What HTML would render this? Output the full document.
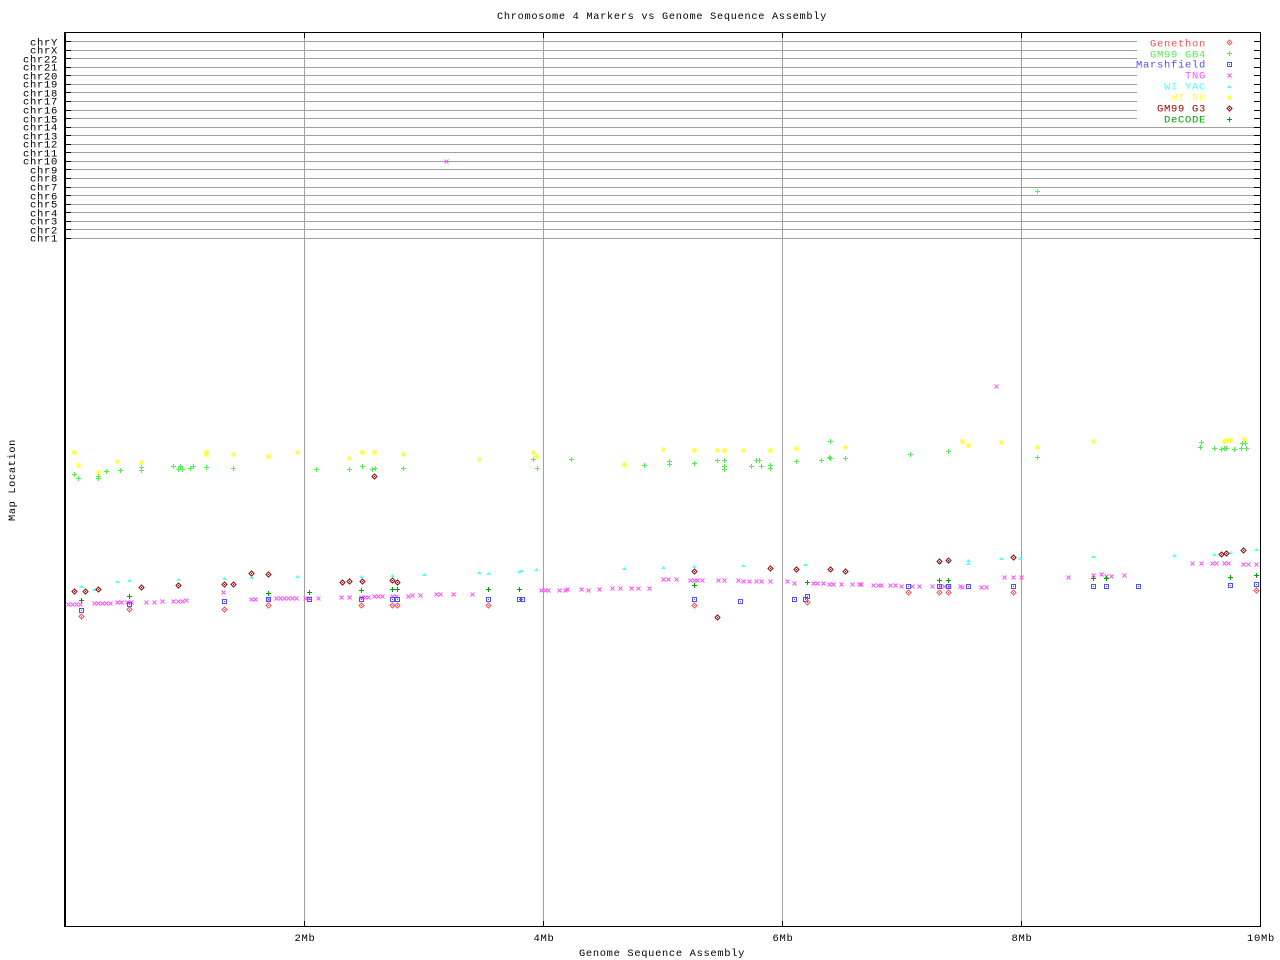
<!DOCTYPE html>
<html><head><meta charset="utf-8"><style>
html,body{margin:0;padding:0;background:#fff;}
svg{display:block;}
text{font-family:"Liberation Mono",monospace;font-size:10.5px;letter-spacing:0.7px;fill:#000;}
</style></head><body>
<svg width="1280" height="960" viewBox="0 0 1280 960" xmlns="http://www.w3.org/2000/svg">
<defs>
<g id="gen"><path d="M0,-2.5L2.5,0L0,2.5L-2.5,0Z" fill="none" stroke="#ff5050"/><rect x="-0.5" y="-0.5" width="1" height="1" fill="#ff5050"/></g>
<g id="gb4"><path d="M-2.5,0H2.5M0,-2.5V2.5" stroke="#50f050" fill="none"/></g>
<g id="mar"><rect x="-2" y="-2" width="4" height="4" fill="none" stroke="#5050ff"/><rect x="-0.5" y="-0.5" width="1" height="1" fill="#5050ff"/></g>
<g id="tng"><path d="M-2,-2L2,2M-2,2L2,-2" stroke="#ff50ff" fill="none"/></g>
<g id="yac"><path d="M0,-1.5L2.5,1.5L-2.5,1.5Z" fill="#50ffff"/></g>
<g id="rh"><path d="M-2.5,0H2.5M0,-2.5V2.5M-2,-2L2,2M-2,2L2,-2" stroke="#ffff40" fill="none"/></g>
<g id="g3"><path d="M0,-2.5L2.5,0L0,2.5L-2.5,0Z" fill="none" stroke="#a00000"/><rect x="-0.5" y="-0.5" width="1" height="1" fill="#a00000"/></g>
<g id="dec"><path d="M-2.5,0H2.5M0,-2.5V2.5" stroke="#00a000" fill="none"/></g>
</defs>

<text x="662" y="19" text-anchor="middle" textLength="330" lengthAdjust="spacingAndGlyphs">Chromosome 4 Markers vs Genome Sequence Assembly</text>

<!-- chromosome lines -->
<g fill="#a0a0a0">
<rect x="71" y="41" width="1183" height="1"/>
<rect x="71" y="50" width="1183" height="1"/>
<rect x="71" y="58" width="1183" height="1"/>
<rect x="71" y="67" width="1183" height="1"/>
<rect x="71" y="75" width="1183" height="1"/>
<rect x="71" y="84" width="1183" height="1"/>
<rect x="71" y="92" width="1183" height="1"/>
<rect x="71" y="101" width="1183" height="1"/>
<rect x="71" y="110" width="1183" height="1"/>
<rect x="71" y="118" width="1183" height="1"/>
<rect x="71" y="127" width="1183" height="1"/>
<rect x="71" y="135" width="1183" height="1"/>
<rect x="71" y="144" width="1183" height="1"/>
<rect x="71" y="152" width="1183" height="1"/>
<rect x="71" y="161" width="1183" height="1"/>
<rect x="71" y="169" width="1183" height="1"/>
<rect x="71" y="178" width="1183" height="1"/>
<rect x="71" y="187" width="1183" height="1"/>
<rect x="71" y="195" width="1183" height="1"/>
<rect x="71" y="204" width="1183" height="1"/>
<rect x="71" y="212" width="1183" height="1"/>
<rect x="71" y="221" width="1183" height="1"/>
<rect x="71" y="229" width="1183" height="1"/>
<rect x="71" y="238" width="1183" height="1"/>
</g>
<g fill="#000">
<rect x="66" y="41" width="5" height="1"/><rect x="1254" y="41" width="6" height="1"/>
<rect x="66" y="50" width="5" height="1"/><rect x="1254" y="50" width="6" height="1"/>
<rect x="66" y="58" width="5" height="1"/><rect x="1254" y="58" width="6" height="1"/>
<rect x="66" y="67" width="5" height="1"/><rect x="1254" y="67" width="6" height="1"/>
<rect x="66" y="75" width="5" height="1"/><rect x="1254" y="75" width="6" height="1"/>
<rect x="66" y="84" width="5" height="1"/><rect x="1254" y="84" width="6" height="1"/>
<rect x="66" y="92" width="5" height="1"/><rect x="1254" y="92" width="6" height="1"/>
<rect x="66" y="101" width="5" height="1"/><rect x="1254" y="101" width="6" height="1"/>
<rect x="66" y="110" width="5" height="1"/><rect x="1254" y="110" width="6" height="1"/>
<rect x="66" y="118" width="5" height="1"/><rect x="1254" y="118" width="6" height="1"/>
<rect x="66" y="127" width="5" height="1"/><rect x="1254" y="127" width="6" height="1"/>
<rect x="66" y="135" width="5" height="1"/><rect x="1254" y="135" width="6" height="1"/>
<rect x="66" y="144" width="5" height="1"/><rect x="1254" y="144" width="6" height="1"/>
<rect x="66" y="152" width="5" height="1"/><rect x="1254" y="152" width="6" height="1"/>
<rect x="66" y="161" width="5" height="1"/><rect x="1254" y="161" width="6" height="1"/>
<rect x="66" y="169" width="5" height="1"/><rect x="1254" y="169" width="6" height="1"/>
<rect x="66" y="178" width="5" height="1"/><rect x="1254" y="178" width="6" height="1"/>
<rect x="66" y="187" width="5" height="1"/><rect x="1254" y="187" width="6" height="1"/>
<rect x="66" y="195" width="5" height="1"/><rect x="1254" y="195" width="6" height="1"/>
<rect x="66" y="204" width="5" height="1"/><rect x="1254" y="204" width="6" height="1"/>
<rect x="66" y="212" width="5" height="1"/><rect x="1254" y="212" width="6" height="1"/>
<rect x="66" y="221" width="5" height="1"/><rect x="1254" y="221" width="6" height="1"/>
<rect x="66" y="229" width="5" height="1"/><rect x="1254" y="229" width="6" height="1"/>
<rect x="66" y="238" width="5" height="1"/><rect x="1254" y="238" width="6" height="1"/>
</g>

<!-- chr labels -->
<g text-anchor="end">
<text x="58" y="45.5">chrY</text>
<text x="58" y="53.5">chrX</text>
<text x="58" y="62.5">chr22</text>
<text x="58" y="70.5">chr21</text>
<text x="58" y="79.5">chr20</text>
<text x="58" y="87.5">chr19</text>
<text x="58" y="96.5">chr18</text>
<text x="58" y="104.5">chr17</text>
<text x="58" y="113.5">chr16</text>
<text x="58" y="122.5">chr15</text>
<text x="58" y="130.5">chr14</text>
<text x="58" y="139.5">chr13</text>
<text x="58" y="147.5">chr12</text>
<text x="58" y="156.5">chr11</text>
<text x="58" y="164.5">chr10</text>
<text x="58" y="173.5">chr9</text>
<text x="58" y="181.5">chr8</text>
<text x="58" y="190.5">chr7</text>
<text x="58" y="199.5">chr6</text>
<text x="58" y="207.5">chr5</text>
<text x="58" y="216.5">chr4</text>
<text x="58" y="224.5">chr3</text>
<text x="58" y="233.5">chr2</text>
<text x="58" y="241.5">chr1</text>
</g>

<!-- vertical gridlines -->
<g fill="#a0a0a0">
<rect x="304" y="33" width="1" height="893"/>
<rect x="543" y="33" width="1" height="893"/>
<rect x="782" y="33" width="1" height="893"/>
<rect x="1021" y="33" width="1" height="893"/>
</g>
<g fill="#000">
<rect x="304" y="33" width="1" height="5"/><rect x="304" y="921" width="1" height="5"/>
<rect x="543" y="33" width="1" height="5"/><rect x="543" y="921" width="1" height="5"/>
<rect x="782" y="33" width="1" height="5"/><rect x="782" y="921" width="1" height="5"/>
<rect x="1021" y="33" width="1" height="5"/><rect x="1021" y="921" width="1" height="5"/>
</g>

<!-- legend background -->
<rect x="1137" y="37" width="117" height="88" fill="#fff"/>

<!-- frame -->
<rect x="64" y="32" width="2" height="895" fill="#000"/>
<rect x="64" y="32" width="1197" height="1" fill="#000"/>
<rect x="64" y="926" width="1197" height="1" fill="#000"/>
<rect x="1260" y="32" width="1" height="895" fill="#000"/>

<!-- x tick labels -->
<g text-anchor="middle">
<text x="305" y="941">2Mb</text>
<text x="544" y="941">4Mb</text>
<text x="783" y="941">6Mb</text>
<text x="1022" y="941">8Mb</text>
<text x="1261" y="941">10Mb</text>
</g>
<text x="662" y="956" text-anchor="middle" textLength="166" lengthAdjust="spacingAndGlyphs">Genome Sequence Assembly</text>
<text transform="translate(15,480) rotate(-90)" text-anchor="middle" textLength="82" lengthAdjust="spacingAndGlyphs">Map Location</text>

<!-- legend -->
<g text-anchor="end">
<text x="1206" y="46.5" style="fill:#ff5050">Genethon</text>
<text x="1206" y="57.5" style="fill:#50f050">GM99 GB4</text>
<text x="1206" y="67.5" style="fill:#5050ff">Marshfield</text>
<text x="1206" y="78.5" style="fill:#ff50ff">TNG</text>
<text x="1206" y="89.5" style="fill:#50ffff">WI YAC</text>
<text x="1206" y="100.5" style="fill:#ffff40">WI RH</text>
<text x="1206" y="111.5" style="fill:#a00000">GM99 G3</text>
<text x="1206" y="122.5" style="fill:#00a000">DeCODE</text>
</g>
<g transform="translate(0.5,0.5)">
<use href="#gen" x="1229" y="42"/>
<use href="#gb4" x="1229" y="53"/>
<use href="#mar" x="1229" y="64"/>
<use href="#tng" x="1229" y="75"/>
<use href="#yac" x="1229" y="86"/>
<use href="#rh" x="1229" y="97"/>
<use href="#g3" x="1229" y="108"/>
<use href="#dec" x="1229" y="119"/>
</g>

<!-- data -->
<g transform="translate(0.5,0.5)">
<!-- WI RH -->
<use href="#rh" x="74" y="452"/><use href="#rh" x="78" y="465"/><use href="#rh" x="117" y="461"/><use href="#rh" x="98" y="472"/><use href="#rh" x="141" y="462"/><use href="#rh" x="206" y="452"/><use href="#rh" x="206" y="454"/><use href="#rh" x="233" y="454"/><use href="#rh" x="268" y="456"/><use href="#rh" x="297" y="452"/><use href="#rh" x="349" y="458"/><use href="#rh" x="362" y="452"/><use href="#rh" x="374" y="452"/><use href="#rh" x="403" y="454"/>
<use href="#rh" x="479" y="459"/><use href="#rh" x="533" y="452"/><use href="#rh" x="536" y="456"/><use href="#rh" x="624" y="464"/><use href="#rh" x="663" y="449"/><use href="#rh" x="694" y="450"/><use href="#rh" x="717" y="450"/><use href="#rh" x="724" y="450"/><use href="#rh" x="743" y="450"/><use href="#rh" x="770" y="450"/><use href="#rh" x="796" y="448"/><use href="#rh" x="845" y="447"/>
<use href="#rh" x="962" y="441"/><use href="#rh" x="968" y="445"/><use href="#rh" x="1001" y="442"/><use href="#rh" x="1037" y="447"/><use href="#rh" x="1093" y="441"/><use href="#rh" x="1224" y="441"/><use href="#rh" x="1227" y="440"/><use href="#rh" x="1230" y="440"/><use href="#rh" x="1244" y="439"/>
<!-- GM99 GB4 -->
<use href="#gb4" x="74" y="474"/><use href="#gb4" x="78" y="478"/><use href="#gb4" x="98" y="478"/><use href="#gb4" x="98" y="476"/><use href="#gb4" x="106" y="471"/><use href="#gb4" x="120" y="470"/><use href="#gb4" x="141" y="470"/><use href="#gb4" x="141" y="467"/><use href="#gb4" x="173" y="466"/><use href="#gb4" x="178" y="469"/><use href="#gb4" x="180" y="466"/><use href="#gb4" x="182" y="469"/><use href="#gb4" x="190" y="468"/><use href="#gb4" x="193" y="466"/><use href="#gb4" x="206" y="467"/><use href="#gb4" x="233" y="468"/><use href="#gb4" x="316" y="469"/><use href="#gb4" x="349" y="469"/><use href="#gb4" x="362" y="466"/><use href="#gb4" x="372" y="469"/><use href="#gb4" x="375" y="468"/><use href="#gb4" x="403" y="468"/>
<use href="#gb4" x="533" y="459"/><use href="#gb4" x="537" y="468"/><use href="#gb4" x="571" y="459"/><use href="#gb4" x="644" y="465"/><use href="#gb4" x="669" y="461"/><use href="#gb4" x="669" y="464"/><use href="#gb4" x="694" y="463"/><use href="#gb4" x="717" y="460"/><use href="#gb4" x="724" y="460"/><use href="#gb4" x="724" y="466"/><use href="#gb4" x="724" y="469"/><use href="#gb4" x="751" y="466"/><use href="#gb4" x="756" y="460"/><use href="#gb4" x="759" y="460"/><use href="#gb4" x="761" y="466"/><use href="#gb4" x="770" y="465"/><use href="#gb4" x="770" y="468"/><use href="#gb4" x="796" y="461"/><use href="#gb4" x="821" y="460"/><use href="#gb4" x="829" y="457"/><use href="#gb4" x="830" y="458"/><use href="#gb4" x="830" y="441"/><use href="#gb4" x="845" y="458"/>
<use href="#gb4" x="910" y="454"/><use href="#gb4" x="948" y="451"/><use href="#gb4" x="1037" y="457"/><use href="#gb4" x="1201" y="442"/><use href="#gb4" x="1200" y="447"/><use href="#gb4" x="1214" y="448"/><use href="#gb4" x="1221" y="449"/><use href="#gb4" x="1224" y="448"/><use href="#gb4" x="1226" y="448"/><use href="#gb4" x="1234" y="449"/><use href="#gb4" x="1241" y="448"/><use href="#gb4" x="1242" y="443"/><use href="#gb4" x="1245" y="443"/><use href="#gb4" x="1246" y="448"/>
<use href="#gb4" x="1037" y="191"/>
<!-- WI YAC -->
<use href="#yac" x="81" y="586"/><use href="#yac" x="94" y="589"/><use href="#yac" x="117" y="581"/><use href="#yac" x="129" y="580"/><use href="#yac" x="178" y="579"/><use href="#yac" x="224" y="578"/><use href="#yac" x="251" y="577"/><use href="#yac" x="297" y="576"/><use href="#yac" x="361" y="576"/><use href="#yac" x="392" y="575"/><use href="#yac" x="424" y="574"/>
<use href="#yac" x="479" y="572"/><use href="#yac" x="488" y="573"/><use href="#yac" x="519" y="571"/><use href="#yac" x="521" y="570"/><use href="#yac" x="536" y="569"/><use href="#yac" x="624" y="568"/><use href="#yac" x="663" y="567"/><use href="#yac" x="694" y="566"/><use href="#yac" x="743" y="565"/><use href="#yac" x="805" y="564"/>
<use href="#yac" x="939" y="562"/><use href="#yac" x="948" y="561"/><use href="#yac" x="968" y="560"/><use href="#yac" x="968" y="563"/><use href="#yac" x="1001" y="558"/><use href="#yac" x="1020" y="558"/><use href="#yac" x="1093" y="556"/><use href="#yac" x="1174" y="555"/><use href="#yac" x="1214" y="554"/><use href="#yac" x="1230" y="552"/><use href="#yac" x="1256" y="549"/>
<!-- GM99 G3 -->
<use href="#g3" x="374" y="476"/>
<use href="#g3" x="74" y="591"/><use href="#g3" x="85" y="591"/><use href="#g3" x="98" y="589"/><use href="#g3" x="141" y="587"/><use href="#g3" x="178" y="585"/><use href="#g3" x="224" y="584"/><use href="#g3" x="233" y="584"/><use href="#g3" x="251" y="573"/><use href="#g3" x="268" y="574"/><use href="#g3" x="342" y="582"/><use href="#g3" x="349" y="581"/><use href="#g3" x="362" y="581"/><use href="#g3" x="392" y="580"/><use href="#g3" x="397" y="582"/>
<use href="#g3" x="694" y="571"/><use href="#g3" x="770" y="568"/><use href="#g3" x="796" y="569"/><use href="#g3" x="830" y="569"/><use href="#g3" x="845" y="571"/><use href="#g3" x="717" y="617"/>
<use href="#g3" x="939" y="561"/><use href="#g3" x="948" y="560"/><use href="#g3" x="1013" y="557"/><use href="#g3" x="1221" y="554"/><use href="#g3" x="1226" y="553"/><use href="#g3" x="1243" y="550"/>
<!-- TNG -->
<use href="#tng" x="68" y="604"/><use href="#tng" x="72" y="604"/><use href="#tng" x="76" y="604"/><use href="#tng" x="80" y="604"/><use href="#tng" x="94" y="603"/><use href="#tng" x="98" y="603"/><use href="#tng" x="102" y="603"/><use href="#tng" x="106" y="603"/><use href="#tng" x="110" y="603"/><use href="#tng" x="117" y="602"/><use href="#tng" x="121" y="602"/><use href="#tng" x="127" y="602"/><use href="#tng" x="131" y="602"/><use href="#tng" x="146" y="602"/><use href="#tng" x="154" y="602"/><use href="#tng" x="162" y="601"/><use href="#tng" x="173" y="601"/><use href="#tng" x="178" y="601"/><use href="#tng" x="182" y="601"/><use href="#tng" x="186" y="600"/><use href="#tng" x="223" y="592"/><use href="#tng" x="251" y="599"/><use href="#tng" x="255" y="599"/><use href="#tng" x="268" y="599"/><use href="#tng" x="276" y="598"/><use href="#tng" x="280" y="598"/><use href="#tng" x="284" y="598"/><use href="#tng" x="288" y="598"/><use href="#tng" x="292" y="598"/><use href="#tng" x="296" y="598"/><use href="#tng" x="305" y="598"/><use href="#tng" x="309" y="598"/><use href="#tng" x="318" y="598"/><use href="#tng" x="341" y="597"/><use href="#tng" x="349" y="597"/><use href="#tng" x="361" y="597"/><use href="#tng" x="365" y="597"/><use href="#tng" x="368" y="597"/><use href="#tng" x="374" y="596"/><use href="#tng" x="378" y="596"/><use href="#tng" x="382" y="596"/><use href="#tng" x="392" y="596"/><use href="#tng" x="396" y="596"/><use href="#tng" x="408" y="596"/><use href="#tng" x="412" y="595"/><use href="#tng" x="420" y="595"/><use href="#tng" x="436" y="594"/><use href="#tng" x="440" y="594"/><use href="#tng" x="453" y="594"/>
<use href="#tng" x="472" y="594"/><use href="#tng" x="541" y="590"/><use href="#tng" x="545" y="590"/><use href="#tng" x="548" y="590"/><use href="#tng" x="559" y="590"/><use href="#tng" x="565" y="590"/><use href="#tng" x="567" y="589"/><use href="#tng" x="581" y="589"/><use href="#tng" x="588" y="590"/><use href="#tng" x="599" y="589"/><use href="#tng" x="612" y="588"/><use href="#tng" x="620" y="588"/><use href="#tng" x="631" y="588"/><use href="#tng" x="638" y="588"/><use href="#tng" x="649" y="588"/><use href="#tng" x="663" y="579"/><use href="#tng" x="668" y="579"/><use href="#tng" x="676" y="579"/><use href="#tng" x="690" y="580"/><use href="#tng" x="694" y="580"/><use href="#tng" x="697" y="580"/><use href="#tng" x="702" y="580"/><use href="#tng" x="718" y="580"/><use href="#tng" x="724" y="580"/><use href="#tng" x="738" y="580"/><use href="#tng" x="743" y="581"/><use href="#tng" x="749" y="581"/><use href="#tng" x="756" y="581"/><use href="#tng" x="761" y="581"/><use href="#tng" x="770" y="581"/><use href="#tng" x="787" y="581"/><use href="#tng" x="794" y="583"/><use href="#tng" x="813" y="583"/><use href="#tng" x="817" y="583"/><use href="#tng" x="823" y="583"/><use href="#tng" x="829" y="584"/><use href="#tng" x="833" y="584"/><use href="#tng" x="841" y="584"/><use href="#tng" x="852" y="584"/><use href="#tng" x="859" y="584"/>
<use href="#tng" x="861" y="584"/><use href="#tng" x="873" y="585"/><use href="#tng" x="878" y="585"/><use href="#tng" x="881" y="585"/><use href="#tng" x="890" y="585"/><use href="#tng" x="895" y="585"/><use href="#tng" x="901" y="586"/><use href="#tng" x="912" y="586"/><use href="#tng" x="919" y="586"/><use href="#tng" x="932" y="586"/><use href="#tng" x="940" y="586"/><use href="#tng" x="944" y="586"/><use href="#tng" x="949" y="586"/><use href="#tng" x="960" y="586"/><use href="#tng" x="962" y="587"/><use href="#tng" x="981" y="587"/><use href="#tng" x="986" y="587"/><use href="#tng" x="1004" y="577"/><use href="#tng" x="1013" y="577"/><use href="#tng" x="1021" y="577"/><use href="#tng" x="1068" y="577"/><use href="#tng" x="1093" y="575"/><use href="#tng" x="1101" y="574"/><use href="#tng" x="1106" y="576"/><use href="#tng" x="1111" y="576"/><use href="#tng" x="1124" y="575"/><use href="#tng" x="1192" y="563"/><use href="#tng" x="1201" y="563"/><use href="#tng" x="1212" y="563"/><use href="#tng" x="1216" y="563"/><use href="#tng" x="1224" y="563"/><use href="#tng" x="1228" y="563"/><use href="#tng" x="1243" y="564"/><use href="#tng" x="1248" y="564"/><use href="#tng" x="1256" y="564"/>
<use href="#tng" x="446" y="161"/><use href="#tng" x="996" y="386"/>
<!-- DeCODE -->
<use href="#dec" x="81" y="600"/><use href="#dec" x="129" y="596"/><use href="#dec" x="268" y="593"/><use href="#dec" x="309" y="592"/><use href="#dec" x="361" y="590"/><use href="#dec" x="392" y="589"/><use href="#dec" x="397" y="589"/>
<use href="#dec" x="488" y="589"/><use href="#dec" x="519" y="589"/><use href="#dec" x="694" y="585"/><use href="#dec" x="807" y="582"/>
<use href="#dec" x="939" y="580"/><use href="#dec" x="948" y="580"/><use href="#dec" x="1093" y="578"/><use href="#dec" x="1106" y="578"/><use href="#dec" x="1230" y="577"/><use href="#dec" x="1256" y="575"/>
<!-- Marshfield -->
<use href="#mar" x="81" y="610"/><use href="#mar" x="129" y="604"/><use href="#mar" x="224" y="601"/><use href="#mar" x="268" y="599"/><use href="#mar" x="309" y="599"/><use href="#mar" x="361" y="599"/><use href="#mar" x="392" y="599"/><use href="#mar" x="397" y="599"/>
<use href="#mar" x="488" y="599"/><use href="#mar" x="519" y="599"/><use href="#mar" x="522" y="599"/><use href="#mar" x="694" y="599"/><use href="#mar" x="740" y="601"/><use href="#mar" x="794" y="599"/><use href="#mar" x="805" y="599"/><use href="#mar" x="807" y="596"/>
<use href="#mar" x="908" y="586"/><use href="#mar" x="939" y="586"/><use href="#mar" x="948" y="586"/><use href="#mar" x="968" y="586"/><use href="#mar" x="1013" y="586"/><use href="#mar" x="1093" y="586"/><use href="#mar" x="1106" y="586"/><use href="#mar" x="1138" y="586"/><use href="#mar" x="1230" y="585"/><use href="#mar" x="1256" y="584"/>
<!-- Genethon -->
<use href="#gen" x="81" y="616"/><use href="#gen" x="129" y="609"/><use href="#gen" x="224" y="609"/><use href="#gen" x="268" y="605"/><use href="#gen" x="361" y="605"/><use href="#gen" x="392" y="605"/><use href="#gen" x="397" y="605"/>
<use href="#gen" x="488" y="605"/><use href="#gen" x="694" y="605"/><use href="#gen" x="807" y="602"/>
<use href="#gen" x="908" y="592"/><use href="#gen" x="939" y="592"/><use href="#gen" x="948" y="592"/><use href="#gen" x="1013" y="592"/><use href="#gen" x="1256" y="590"/>
</g>
</svg>
</body></html>
